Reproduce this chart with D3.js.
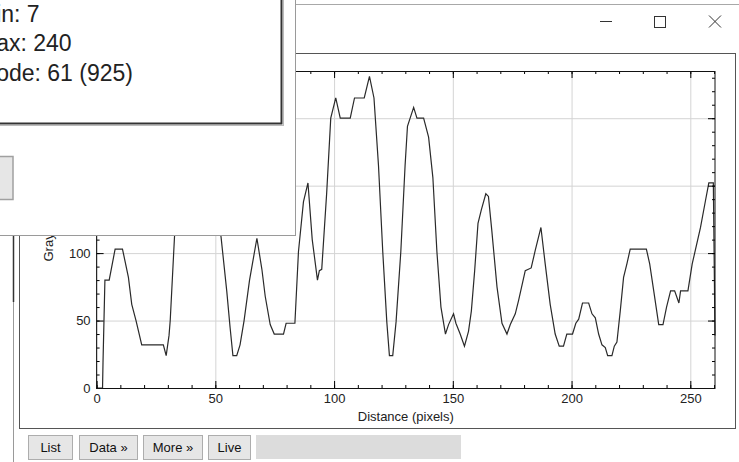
<!DOCTYPE html>
<html>
<head>
<meta charset="utf-8">
<script src="https://cdn.jsdelivr.net/npm/d3@7"></script>
<style>
  html, body { margin: 0; padding: 0; background: #fff; }
  svg { display: block; font-family: Arial, "Liberation Sans", sans-serif; }
</style>
</head>
<body>
<svg width="739" height="462"></svg>
<script>
// profile (distance in pixels, gray value)
var distance = [0, 2.5, 2.7, 3.5, 5.3, 7.8, 10.9, 13.4, 14.8, 16.6, 19, 28.1, 29.3, 30.5, 31, 32.8,
    34.5, 37, 40, 43, 46, 49, 51, 52.4, 54.8, 56.2, 57.4, 59, 60.4, 62.1, 64.4, 67.5, 69.6, 71,
    73.1, 74.8, 78.7, 79.8, 83.5, 85, 87.1, 89, 90.8, 93, 93.8, 94.8, 96.9, 98.6, 100.7, 102.6,
    106.8, 108.6, 112.7, 114.9, 116.8, 118.7, 120.5, 122.2, 123.3, 124.7, 126.1, 128.1, 129.9,
    130.9, 133.5, 134.9, 137.7, 139.8, 141.6, 143.3, 145, 146.9, 148.2, 150.3, 151.3, 153.1,
    154.9, 156.6, 157.8, 159.2, 160.6, 162, 163.9, 165, 166.4, 168.6, 170.7, 172.8, 174.2,
    176.3, 177.7, 180.5, 183, 184.7, 187.1, 188.9, 191, 193.1, 194.8, 196.6, 198, 200.4, 201.8,
    203, 204.6, 207.2, 208.6, 210, 211.4, 212.8, 214.2, 215.2, 217, 218, 219.1, 220.5, 221.9,
    223.3, 224.7, 231.5, 232.9, 234.6, 236.7, 238.5, 240, 241.7, 243.4, 245.2, 245.9, 249,
    250.8, 254.3, 256.4, 257.8, 259.7, 260.4];
var grayValue = [0, 0, 19, 80, 80, 103, 103, 82, 62, 50, 32, 32, 24, 39, 50, 112,
    145, 172, 188, 190, 178, 150, 125, 112, 72, 45, 24, 24, 32, 50, 80, 111, 88, 68,
    47, 40, 40, 48, 48, 101, 138, 152, 110, 80, 87, 88, 145, 200, 215, 200,
    200, 215, 215, 231, 215, 165, 101, 49, 24, 24, 49, 101, 165,
    194, 208, 200, 200, 186, 156, 101, 60, 40, 47, 55, 48, 40,
    31, 42, 57, 87, 122, 132, 144, 142, 117, 75, 48, 40, 47,
    55, 65, 87, 89, 102, 119, 92, 62, 40, 31, 31, 40, 40, 48,
    51, 63, 63, 55, 52, 40, 32, 30, 24, 24, 31, 34, 57, 82,
    92, 103, 103, 92, 72, 47, 47, 60, 72, 72, 63, 72, 72,
    92, 119, 139, 152, 152, 39];

var xMajor = [0, 50, 100, 150, 200, 250];
var yMajor = [0, 50, 100, 150, 200];
var xMinor = d3.range(0, 261, 10);
var yMinor = d3.range(0, 231, 10);

var histLines = ["Min: 7", "Max: 240", "Mode: 61 (925)"];
var buttons = [["List", 28, 44], ["Data \u00bb", 79, 58], ["More \u00bb", 143, 59], ["Live", 208, 42]];

var svg = d3.select("svg");

var pLeft = 96.6, pRight = 715, pTop = 71, pBottom = 388;

var x = d3.scaleLinear().domain([0, 260.4]).range([pLeft, pRight]);
var y = d3.scaleLinear().domain([0, 235]).range([pBottom, pTop]);

// plot window: border, title bar controls, canvas frame
svg.append("line").attr("x1", 295).attr("x2", 739).attr("y1", 4.5).attr("y2", 4.5)
    .attr("stroke", "#a8a8a8");
svg.append("line").attr("x1", 13.5).attr("x2", 13.5).attr("y1", 235).attr("y2", 462)
    .attr("stroke", "#9a9a9a");
svg.append("line").attr("x1", 13.5).attr("x2", 13.5).attr("y1", 235).attr("y2", 302)
    .attr("stroke", "#333").attr("stroke-width", 1.5);

var ctl = svg.append("g").attr("stroke", "#333").attr("fill", "none");
ctl.append("line").attr("x1", 600).attr("x2", 612).attr("y1", 21.5).attr("y2", 21.5);
ctl.append("rect").attr("x", 654.5).attr("y", 16.5).attr("width", 11).attr("height", 11);
ctl.append("line").attr("x1", 709).attr("x2", 721).attr("y1", 15.5).attr("y2", 27.5);
ctl.append("line").attr("x1", 721).attr("x2", 709).attr("y1", 15.5).attr("y2", 27.5);

svg.append("rect").attr("x", 19.5).attr("y", 53.5).attr("width", 716).attr("height", 375)
    .attr("fill", "#fff").attr("stroke", "#555");

// grid
svg.append("g").attr("transform", "translate(0," + pBottom + ")")
    .call(d3.axisBottom(x).tickValues(xMajor).tickSize(-(pBottom - pTop)).tickFormat(""))
    .call(function(g) { g.select(".domain").remove(); g.selectAll("line").attr("stroke", "#d4d4d4"); });
svg.append("g").attr("transform", "translate(" + pLeft + ",0)")
    .call(d3.axisLeft(y).tickValues(yMajor).tickSize(-(pRight - pLeft)).tickFormat(""))
    .call(function(g) { g.select(".domain").remove(); g.selectAll("line").attr("stroke", "#d4d4d4"); });

// profile
var line = d3.line()
    .x(function(d, i) { return x(distance[i]); })
    .y(function(d) { return y(d); });

svg.append("path")
    .datum(grayValue)
    .attr("fill", "none")
    .attr("stroke", "#2a2a2a")
    .attr("stroke-width", 1.2)
    .attr("d", line);

// ticks pointing inwards on all four sides
function ticks(axis, tr, vals, size, labels) {
    var g = svg.append("g").attr("transform", tr)
        .call(axis.tickValues(vals).tickSize(-size).tickPadding(labels ? 6 : 0)
            .tickFormat(labels ? d3.format("d") : ""));
    g.select(".domain").remove();
    g.selectAll("line").attr("stroke", "#000");
    g.selectAll("text").attr("fill", "#222").style("font-size", "13px");
    return g;
}
ticks(d3.axisBottom(x), "translate(0," + pBottom + ")", xMinor, 3, false);
ticks(d3.axisBottom(x), "translate(0," + pBottom + ")", xMajor, 7, true);
ticks(d3.axisTop(x), "translate(0," + pTop + ")", xMinor, 3, false);
ticks(d3.axisTop(x), "translate(0," + pTop + ")", xMajor, 7, false);
ticks(d3.axisLeft(y), "translate(" + pLeft + ",0)", yMinor, 3, false);
ticks(d3.axisLeft(y), "translate(" + pLeft + ",0)", yMajor, 7, true);
ticks(d3.axisRight(y), "translate(" + pRight + ",0)", yMinor, 3, false);
ticks(d3.axisRight(y), "translate(" + pRight + ",0)", yMajor, 7, false);

svg.append("rect").attr("x", pLeft).attr("y", pTop + 0.5)
    .attr("width", pRight - pLeft).attr("height", pBottom - pTop)
    .attr("fill", "none").attr("stroke", "#111");

svg.append("text").attr("x", (pLeft + pRight) / 2).attr("y", 421)
    .attr("text-anchor", "middle").style("font-size", "13px").attr("fill", "#222")
    .text("Distance (pixels)");
svg.append("text").attr("transform", "translate(52.5," + (pTop + pBottom) / 2 + ") rotate(-90)")
    .attr("text-anchor", "middle").style("font-size", "13px").attr("fill", "#222")
    .text("Gray Value");

// buttons under the plot
var btn = svg.append("g").selectAll("g").data(buttons).enter().append("g");
btn.append("rect")
    .attr("x", function(d) { return d[1] + 0.5; }).attr("y", 435.5)
    .attr("width", function(d) { return d[2]; }).attr("height", 24)
    .attr("fill", "#e6e6e6").attr("stroke", "#adadad");
btn.append("text")
    .attr("x", function(d) { return d[1] + d[2] / 2 + 0.5; }).attr("y", 452)
    .attr("text-anchor", "middle").style("font-size", "13px").attr("fill", "#111")
    .text(function(d) { return d[0]; });
svg.append("rect").attr("x", 256).attr("y", 435).attr("width", 205).attr("height", 24)
    .attr("fill", "#dcdcdc");

// histogram window lying over the top left corner
var hw = svg.append("g");
hw.append("rect").attr("x", -5).attr("y", -5).attr("width", 300.5).attr("height", 240.5)
    .attr("fill", "#fff").attr("stroke", "#9a9a9a");
hw.append("rect").attr("x", -10).attr("y", -10).attr("width", 291.5).attr("height", 133.5)
    .attr("fill", "#fff").attr("stroke", "#333").attr("stroke-width", 2);
hw.append("line").attr("x1", 283.5).attr("x2", 283.5).attr("y1", 0).attr("y2", 125)
    .attr("stroke", "#bbb");
hw.append("line").attr("x1", 0).attr("x2", 284).attr("y1", 125.5).attr("y2", 125.5)
    .attr("stroke", "#bbb");
hw.selectAll("text.stat").data(histLines).enter().append("text")
    .attr("class", "stat")
    .attr("x", -23).attr("y", function(d, i) { return 21.5 + i * 29.5; })
    .style("font-size", "23px").attr("fill", "#222")
    .text(function(d) { return d; });
hw.append("rect").attr("x", -60).attr("y", 156.5).attr("width", 73).attr("height", 43)
    .attr("fill", "#e6e6e6").attr("stroke", "#a0a0a0").attr("stroke-width", 1.5);
</script>
</body>
</html>
